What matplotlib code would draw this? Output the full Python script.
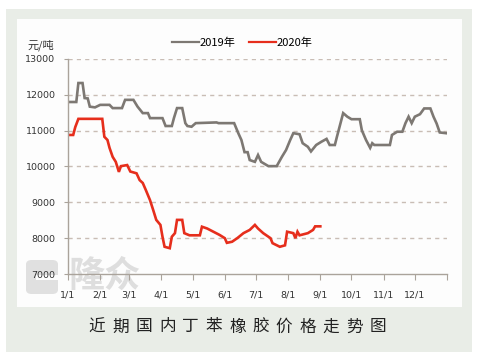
import matplotlib.pyplot as plt
from matplotlib.patches import FancyBboxPatch, Rectangle

plt.rcParams['font.family'] = ['Noto Sans CJK SC', 'DejaVu Sans']

# days counted from 1/1
days_2019 = [0, 8, 10, 14, 16, 19, 21, 26, 31, 40, 43, 52, 55, 63, 67, 72, 77, 79,
             91, 94, 100, 102, 105, 110, 113, 115, 119, 123, 143, 145, 160, 164,
             167, 170, 173, 175, 180, 183, 186, 193, 201, 206, 210, 214, 217, 223,
             226, 231, 234, 239, 244, 249, 252, 257, 259, 262, 265, 269, 273, 281,
             283, 287, 291, 293, 295, 310, 312, 317, 322, 325, 328, 331, 334, 339,
             343, 349, 352, 355, 358, 364]
price_2019 = [11800, 11800, 12330, 12330, 11910, 11900, 11670, 11650, 11720, 11720,
              11630, 11630, 11860, 11860, 11670, 11490, 11490, 11350, 11350, 11130,
              11130, 11350, 11630, 11630, 11210, 11130, 11110, 11210, 11230, 11210,
              11210, 10930, 10740, 10400, 10400, 10180, 10130, 10320, 10130, 10010,
              10010, 10270, 10460, 10740, 10930, 10900, 10650, 10550, 10420, 10600,
              10690, 10770, 10600, 10600, 10830, 11160, 11490, 11390, 11320, 11320,
              11010, 10740, 10520, 10650, 10600, 10600, 10880, 10970, 10970, 11210,
              11390, 11210, 11390, 11460, 11620, 11620, 11390, 11200, 10950, 10930]

days_2020 = [0, 5, 7, 10, 33, 35, 38, 40, 43, 46, 49, 51, 57, 60, 66, 69, 72, 75,
             79, 82, 85, 89, 91, 93, 98, 100, 103, 105, 110, 112, 117, 127, 129,
             134, 140, 146, 151, 153, 158, 163, 169, 175, 180, 183, 188, 195, 197,
             204, 209, 211, 217, 219, 221, 223, 231, 236, 238, 243]
price_2020 = [10880, 10880, 11100, 11330, 11330, 10830, 10740, 10520, 10270, 10130,
              9850, 10010, 10040, 9860, 9810, 9620, 9540, 9340, 9060, 8790, 8510,
              8370, 8040, 7760, 7720, 8040, 8140, 8510, 8510, 8140, 8080, 8080, 8320,
              8270, 8180, 8090, 8000, 7870, 7900, 8000, 8140, 8230, 8370, 8270, 8140,
              8000, 7860, 7760, 7800, 8180, 8140, 8000, 8180, 8080, 8140, 8230, 8330,
              8330]

month_days = [0, 31, 59, 90, 120, 151, 181, 212, 243, 273, 304, 334, 365]
month_labels = ['1/1', '2/1', '3/1', '4/1', '5/1', '6/1', '7/1', '8/1', '9/1',
                '10/1', '11/1', '12/1', '']
y_ticks = [7000, 8000, 9000, 10000, 11000, 12000, 13000]

GRAY, RED = "#7d7873", "#e62e1c"
AXIS = "#aaa39b"

fig = plt.figure(figsize=(4.86, 3.61), dpi=100)
fig.patch.set_facecolor("white")

# panel background and inner white box
fig.patches.append(Rectangle((6 / 486, 1 - 352 / 361), 466 / 486, 343 / 361,
                             transform=fig.transFigure, facecolor="#e9ede7",
                             edgecolor="none", zorder=-3))
fig.patches.append(Rectangle((17 / 486, 1 - 307 / 361), 445 / 486, 288 / 361,
                             transform=fig.transFigure, facecolor="#fdfdfd",
                             edgecolor="none", zorder=-2))

# watermark
fig.patches.append(FancyBboxPatch((26 / 486, 1 - 294 / 361), 32 / 486, 34 / 361,
                                  boxstyle="round,pad=0,rounding_size=0.012",
                                  transform=fig.transFigure, facecolor="#e0e0e0",
                                  edgecolor="none", zorder=-1))
fig.patches.append(Rectangle((36 / 486, 1 - 280 / 361), 24 / 486, 5 / 361,
                             transform=fig.transFigure, facecolor="#fdfdfd",
                             edgecolor="none", zorder=-0.5))
fig.text(105 / 486, 1 - 276 / 361, "隆众", fontsize=26, color="#dedede",
         ha="center", va="center", fontweight="bold", zorder=-0.5)

ax = fig.add_axes([68 / 486, 1 - 274 / 361, 379 / 486, 215 / 361])
ax.set_zorder(2)
ax.patch.set_alpha(0)

ax.plot(days_2019, price_2019, color=GRAY, lw=1.9, label="2019年",
        solid_joinstyle="miter")
ax.plot(days_2020, price_2020, color=RED, lw=1.9, label="2020年",
        solid_joinstyle="miter")

ax.set_xlim(0, 365)
ax.set_ylim(7000, 13000)
ax.set_yticks(y_ticks)
ax.set_yticklabels([str(v) for v in y_ticks], family="DejaVu Sans")
ax.set_xticks(month_days)
ax.set_xticklabels(month_labels, family="DejaVu Sans")
ax.tick_params(axis="x", length=4, color=AXIS, labelsize=6.8, pad=8,
               labelcolor="#333333")
ax.tick_params(axis="y", length=3, color=AXIS, labelsize=6.8, pad=6,
               labelcolor="#333333")

for v in y_ticks[1:]:
    ax.axhline(v, color="#c9bdb5", lw=1.0, ls=(0, (3, 3)), zorder=0)

for side in ("top", "right"):
    ax.spines[side].set_visible(False)
for side in ("left", "bottom"):
    ax.spines[side].set_color(AXIS)
    ax.spines[side].set_linewidth(1.0)

leg = ax.legend(loc="lower center", bbox_to_anchor=(0.46, 1.03), ncol=2,
                frameon=False, fontsize=8, handlelength=2.4, handletextpad=0.1,
                columnspacing=1.2, borderaxespad=0)
for h in leg.get_lines():
    h.set_linewidth(1.6)

fig.text(27 / 486, 1 - 45 / 361, "元/吨", fontsize=8, color="#333333",
         ha="left", va="center")

title = "近期国内丁苯橡胶价格走势图"
x0, step = 97 / 486, 23.4 / 486
for i, ch in enumerate(title):
    fig.text(x0 + i * step, 1 - 327 / 361, ch, fontsize=12, color="#222222",
             ha="center", va="center")

fig.savefig("out.png", dpi=100, facecolor="white")
